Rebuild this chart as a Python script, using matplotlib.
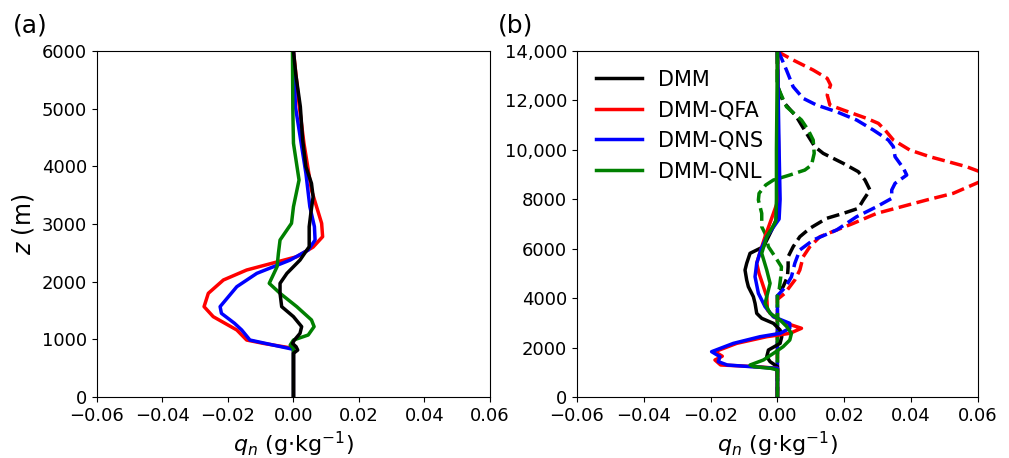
import numpy as np
import matplotlib.pyplot as plt
from matplotlib.ticker import FuncFormatter

# (a) profiles, q_n in g/kg vs height in m
red_a_z = [6000, 5034, 4399, 3589, 3012, 2780, 2600, 2433, 2202, 2029, 1798, 1567, 1393, 1162, 988, 930, 843, 0]
red_a_q = [0.0, 0.0018, 0.0032, 0.0055, 0.0086, 0.0089, 0.006, 0.001, -0.0143, -0.0214, -0.026, -0.0273, -0.0245, -0.0173, -0.0143, -0.0092, 0.0, 0.0]

blue_a_z = [6000, 5034, 3878, 3300, 2953, 2722, 2549, 2375, 2144, 1913, 1567, 1451, 1278, 1162, 988, 901, 826, 0]
blue_a_q = [0.0, 0.0006, 0.0038, 0.005, 0.0064, 0.0066, 0.0045, -0.001, -0.0112, -0.0173, -0.0224, -0.022, -0.018, -0.0158, -0.0133, -0.0062, 0.0, 0.0]

green_a_z = [6000, 5000, 4400, 3763, 3300, 3012, 2722, 2491, 2260, 1971, 1798, 1567, 1336, 1220, 1075, 988, 901, 843, 0]
green_a_q = [-0.0003, -0.0002, 0.0, 0.0017, 0.0, -0.0006, -0.0041, -0.0046, -0.005, -0.0074, -0.0041, 0.001, 0.0055, 0.0063, 0.0045, 0.0, -0.001, 0.0, 0.0]

black_a_z = [6000, 5600, 5034, 4458, 3994, 3705, 3474, 3185, 2953, 2607, 2375, 2144, 1971, 1798, 1567, 1393, 1220, 1104, 988, 930, 872, 814, 757, 0]
black_a_q = [0.0, 0.0007, 0.0021, 0.0028, 0.0038, 0.0055, 0.006, 0.0053, 0.0048, 0.0048, 0.002, -0.002, -0.0041, -0.0041, -0.0036, 0.0, 0.0025, 0.002, 0.0003, -0.0003, 0.0008, 0.0013, 0.0, 0.0]

# (b) solid profiles
black_b_z = [14000, 10000, 8000, 7200, 6757, 6400, 6080, 5814, 5408, 5138, 4733, 4462, 4058, 3790, 3385, 3183, 2980, 2710, 2440, 2170, 1900, 1630, 1430, 1227, 0]
black_b_q = [0, 0.0003, 0.0, -0.0003, -0.0017, -0.003, -0.0042, -0.0082, -0.0092, -0.0097, -0.0092, -0.0087, -0.0072, -0.0067, -0.0062, -0.0047, -0.0012, 0.0008, 0.0013, 0.0008, -0.0027, -0.0032, -0.0022, 0.0, 0.0]

red_b_z = [14000, 10000, 8000, 7430, 6485, 5948, 5410, 5000, 4470, 4058, 3520, 3250, 2980, 2780, 2575, 2440, 2170, 1834, 1650, 1497, 1295, 1227, 1160, 0]
red_b_q = [0, 0.0003, 0.0003, -0.0012, -0.0037, -0.005, -0.0062, -0.0055, -0.0042, -0.0032, -0.003, -0.0012, 0.0027, 0.0072, 0.0037, -0.0032, -0.0122, -0.0187, -0.0165, -0.0187, -0.017, -0.0062, 0.0, 0.0]

blue_b_z = [14000, 10000, 8000, 7200, 6485, 5948, 5410, 4867, 4195, 3655, 3250, 2980, 2780, 2575, 2440, 2170, 1834, 1630, 1430, 1295, 1227, 1160, 0]
blue_b_q = [0, 0.0005, 0.0008, 0.0005, -0.0032, -0.005, -0.0062, -0.0067, -0.0057, -0.0037, -0.0012, 0.0037, 0.0037, 0.0008, -0.0052, -0.0132, -0.0197, -0.0172, -0.0177, -0.015, -0.008, 0.0, 0.0]

green_b_z = [14000, 10000, 8000, 7100, 6485, 5814, 5138, 4600, 4058, 3790, 3385, 3115, 2845, 2575, 2305, 2035, 1765, 1497, 1295, 1227, 1160, 1092, 0]
green_b_q = [0, -0.0003, -0.0003, -0.0005, -0.0032, -0.0047, -0.0032, -0.0022, -0.0032, -0.0037, -0.0022, 0.0008, 0.0028, 0.0042, 0.0037, 0.0017, -0.0012, -0.0042, -0.0082, -0.007, -0.002, 0.0, 0.0]

# (b) dashed profiles
red_d_z = [14000, 13930, 13635, 13230, 12893, 12624, 12219, 11814, 11612, 11275, 11073, 10803, 10398, 9994, 9723, 9319, 9116, 8950, 8711, 8241, 7970, 7430, 7026, 6485, 6080, 5675, 5138, 4733, 4195, 3950, 0]
red_d_q = [0.0, 0.0007, 0.0047, 0.0107, 0.0149, 0.0159, 0.0149, 0.0157, 0.0197, 0.0267, 0.0302, 0.0322, 0.0347, 0.0396, 0.0456, 0.0566, 0.0606, 0.064, 0.0606, 0.0526, 0.0446, 0.0297, 0.0227, 0.0127, 0.0097, 0.0077, 0.0067, 0.0052, 0.0022, 0.0, 0.0]

blue_d_z = [14000, 13900, 13230, 12555, 12085, 11814, 11543, 11207, 10803, 10398, 10128, 9723, 9253, 8982, 8645, 8375, 8038, 7700, 7295, 6757, 6352, 5948, 5410, 4867, 4462, 4100, 0]
blue_d_q = [0.0, 0.0006, 0.0027, 0.0047, 0.0077, 0.0117, 0.0177, 0.0237, 0.0287, 0.0332, 0.0347, 0.0352, 0.0377, 0.0387, 0.0352, 0.0342, 0.0342, 0.0297, 0.0237, 0.0177, 0.0107, 0.0067, 0.0052, 0.0042, 0.0025, 0.0, 0.0]

black_d_z = [14000, 12600, 12421, 11948, 11341, 10668, 10128, 9858, 9454, 9116, 8780, 8375, 7970, 7633, 7430, 7228, 6825, 6485, 6080, 5675, 5270, 4867, 4462, 4200, 0]
black_d_q = [0, 0, 0.0005, 0.0017, 0.0057, 0.0087, 0.0112, 0.0137, 0.0197, 0.0242, 0.0262, 0.0277, 0.0257, 0.0242, 0.0197, 0.0147, 0.0097, 0.0067, 0.0047, 0.0032, 0.0032, 0.003, 0.0017, 0.0, 0.0]

green_d_z = [14000, 12600, 12421, 11746, 11207, 10803, 10398, 9858, 9387, 9184, 8982, 8780, 8578, 8241, 7970, 7430, 6890, 6620, 6080, 5675, 5270, 4867, 4330, 4100, 0]
green_d_q = [0, 0, 0.0005, 0.0027, 0.0072, 0.0092, 0.0107, 0.011, 0.0102, 0.0082, 0.0037, -0.0012, -0.0035, -0.0055, -0.0057, -0.0047, -0.0047, -0.0037, -0.0027, -0.0007, 0.0012, 0.001, 0.0005, 0.0, 0.0]

labels = ['DMM', 'DMM-QFA', 'DMM-QNS', 'DMM-QNL']
xticks = [-0.06, -0.04, -0.02, 0.0, 0.02, 0.04, 0.06]

lw = 2.5
fig = plt.figure(figsize=(10.09, 4.58), dpi=100)
ax1 = fig.add_axes([0.0961, 0.1332, 0.3895, 0.7554])
ax2 = fig.add_axes([0.5718, 0.1332, 0.3974, 0.7554])

# panel a
ax1.plot(red_a_q, red_a_z, color='r', lw=lw)
ax1.plot(blue_a_q, blue_a_z, color='b', lw=lw)
ax1.plot(green_a_q, green_a_z, color='g', lw=lw)
ax1.plot(black_a_q, black_a_z, color='k', lw=lw)
ax1.set_ylim(0, 6000)
ax1.set_ylabel('$z$ (m)', fontsize=17)

# panel b
ax2.plot(black_d_q, black_d_z, color='k', lw=lw, ls='--')
ax2.plot(red_d_q, red_d_z, color='r', lw=lw, ls='--')
ax2.plot(blue_d_q, blue_d_z, color='b', lw=lw, ls='--')
ax2.plot(green_d_q, green_d_z, color='g', lw=lw, ls='--')
ax2.plot(black_b_q, black_b_z, color='k', lw=lw, label=labels[0])
ax2.plot(red_b_q, red_b_z, color='r', lw=lw, label=labels[1])
ax2.plot(blue_b_q, blue_b_z, color='b', lw=lw, label=labels[2])
ax2.plot(green_b_q, green_b_z, color='g', lw=lw, label=labels[3])
ax2.set_ylim(0, 14000)
ax2.set_yticks(np.arange(0, 14001, 2000))
ax2.yaxis.set_major_formatter(FuncFormatter(lambda v, p: f'{int(v):,}' if v >= 10000 else f'{int(v)}'))
ax2.legend(loc='upper left', frameon=False, fontsize=15, handlelength=2.2,
           bbox_to_anchor=(0.0, 1.0))

for ax, tag, xpos in [(ax1, '(a)', 0.013), (ax2, '(b)', 0.493)]:
    ax.set_xlim(-0.06, 0.06)
    ax.set_xticks(xticks)
    ax.tick_params(labelsize=13)
    ax.set_xlabel('$q_n$ (g$\\cdot$kg$^{-1}$)', fontsize=16)
    fig.text(xpos, 0.93, tag, fontsize=18)

fig.savefig('out.png', dpi=100)
